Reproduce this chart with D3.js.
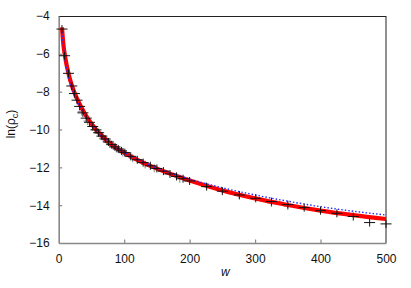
<!DOCTYPE html>
<html>
<head>
<meta charset="utf-8">
<script src="https://cdn.jsdelivr.net/npm/d3@7"></script>
<style>
html,body{margin:0;padding:0;background:#fff;}
svg{display:block;}
text{font-family:"Liberation Sans",Arial,Helvetica,sans-serif;}
</style>
</head>
<body>
<div id="chart"></div>
<script>
// ---- data ----
const xTicks = [0, 100, 200, 300, 400, 500];
const yTicks = [-16, -14, -12, -10, -8, -6, -4];

// red fitted curve
const redW = [5, 7, 10, 15, 20, 25, 30, 40, 50, 60, 70, 80, 90, 100, 120, 140, 160, 180, 200, 250, 300, 350, 400, 450, 500];
const redV = [-4.6, -5.45, -6.2, -7.05, -7.66, -8.13, -8.52, -9.17, -9.7, -10.12, -10.47, -10.77, -11.02, -11.22, -11.6, -11.92, -12.2, -12.46, -12.7, -13.22, -13.64, -13.99, -14.29, -14.53, -14.73];

// blue dotted curve
const blueW = [5, 10, 15, 20, 30, 40, 50, 60, 80, 100, 150, 200, 250, 300, 350, 400, 450, 500];
const blueV = [-4.85, -6.4, -7.22, -7.8, -8.62, -9.25, -9.74, -10.14, -10.77, -11.2, -12.03, -12.62, -13.08, -13.46, -13.79, -14.08, -14.32, -14.52];

// black data points
const ptsW = [5, 9, 15, 20, 24, 28, 32, 37, 42, 47, 52, 57, 61, 66, 71, 76, 81, 86, 91, 96, 101, 110, 120, 129, 140, 150, 160, 170, 180, 190, 200, 226, 250, 276, 301, 325, 350, 375, 400, 425, 450, 475, 500];
const ptsV = [-4.69, -6.1, -7.03, -7.7, -8.1, -8.45, -8.78, -9.12, -9.4, -9.62, -9.84, -10.02, -10.17, -10.35, -10.5, -10.66, -10.8, -10.92, -11.03, -11.13, -11.22, -11.42, -11.6, -11.75, -11.92, -12.06, -12.2, -12.35, -12.48, -12.6, -12.72, -13.02, -13.26, -13.46, -13.64, -13.81, -13.97, -14.13, -14.29, -14.43, -14.6, -14.92, -14.99];

// grey data points
const greyW = [35, 44, 55, 68, 78, 88, 98, 113, 132, 146, 185, 276, 325, 350];
const greyV = [-9.05, -9.55, -10.0, -10.45, -10.75, -11.0, -11.22, -11.52, -11.85, -12.05, -12.6, -13.5, -13.88, -14.05];

// ---- layout ----
const W = 411, H = 288;
const m = {left: 58.7, right: 386, top: 16, bottom: 243};

const svg = d3.select("#chart").append("svg").attr("width", W).attr("height", H);

const x = d3.scaleLinear().domain([0, 500]).range([m.left, m.right]);
const y = d3.scaleLinear().domain([-16, -4]).range([m.bottom, m.top]);

const fmt = d => d < 0 ? "\u2212" + Math.abs(d) : String(d);

// frame: top & right dark
svg.append("line").attr("x1", m.left).attr("x2", m.right).attr("y1", m.top + 0.5).attr("y2", m.top + 0.5)
  .attr("stroke", "#222").attr("stroke-width", 1);
svg.append("line").attr("x1", m.right).attr("x2", m.right).attr("y1", m.top).attr("y2", m.bottom)
  .attr("stroke", "#222").attr("stroke-width", 1);

// axes (grey, inward ticks)
const yAxis = d3.axisLeft(y).tickValues(yTicks).tickSizeInner(-3.5).tickSizeOuter(0).tickPadding(9).tickFormat(fmt);
const gy = svg.append("g").attr("transform", `translate(${m.left},0)`).call(yAxis);
gy.select(".domain").attr("stroke", "#888").attr("stroke-width", 1.6);
gy.selectAll(".tick line").attr("stroke", "#888").attr("stroke-width", 1.2)
  .filter(d => d === -16 || d === -4).remove();
gy.selectAll(".tick text").attr("font-size", 12).attr("fill", "#111")
  .attr("font-family", '"Liberation Sans",Arial,sans-serif');

const xAxis = d3.axisBottom(x).tickValues(xTicks).tickSizeInner(-3.5).tickSizeOuter(0).tickPadding(11).tickFormat(fmt);
const gx = svg.append("g").attr("transform", `translate(0,${m.bottom})`).call(xAxis);
gx.select(".domain").attr("stroke", "#888").attr("stroke-width", 1.6);
gx.selectAll(".tick line").attr("stroke", "#888").attr("stroke-width", 1.2)
  .filter(d => d === 0 || d === 500).remove();
gx.selectAll(".tick text").attr("font-size", 12).attr("fill", "#111")
  .attr("font-family", '"Liberation Sans",Arial,sans-serif');

// axis labels
svg.append("text").attr("x", x(250) + 3).attr("y", 276).attr("text-anchor", "middle")
  .attr("font-size", 12).attr("font-style", "italic").attr("fill", "#111").text("w");

const yl = svg.append("text").attr("transform", `translate(15,${124}) rotate(-90)`)
  .attr("text-anchor", "middle").attr("font-size", 12).attr("fill", "#111");
yl.append("tspan").text("ln(\u03c1");
yl.append("tspan").attr("font-size", 9).attr("dy", 3).text("c");
yl.append("tspan").attr("dy", -3).text(")");

const plot = svg.append("g");

const plus = (g, W_, V_, color, hw, hh, sw) => {
  W_.forEach((w, i) => {
    const cx = x(w), cy = y(V_[i]);
    g.append("path")
      .attr("d", `M${cx - hw},${cy}H${cx + hw}M${cx},${cy - hh}V${cy + hh}`)
      .attr("stroke", color).attr("stroke-width", sw).attr("fill", "none");
  });
};
// grey points
plus(plot, greyW, greyV, "#9a9a9a", 4, 4, 1.2);

// red curve
const line = d3.line().x(d => x(d[0])).y(d => y(d[1])).curve(d3.curveMonotoneX);
plot.append("path").datum(redW.map((w, i) => [w, redV[i]]))
  .attr("d", line).attr("fill", "none").attr("stroke", "#ff0000").attr("stroke-width", 4.2);

// blue dotted curve
plot.append("path").datum(blueW.map((w, i) => [w, blueV[i]]))
  .attr("d", line).attr("fill", "none").attr("stroke", "#2a2aff").attr("stroke-width", 1.4)
  .attr("stroke-dasharray", "1.5,2");

// black points
plus(plot, ptsW, ptsV, "#111", 5.5, 4, 1);
</script>
</body>
</html>
